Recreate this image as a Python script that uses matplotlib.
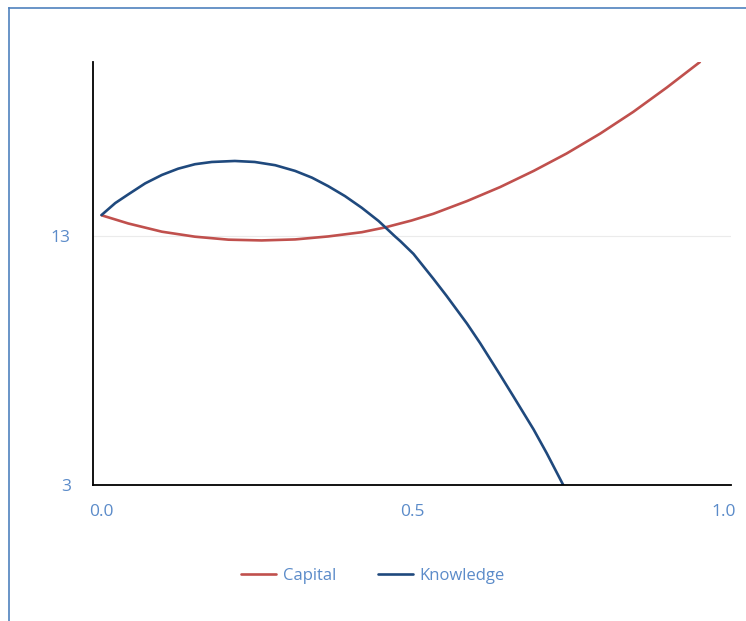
import matplotlib.pyplot as plt
from matplotlib.lines import Line2D

plt.rcParams['font.family'] = ['Open Sans', 'DejaVu Sans']

# Curves read at sample points along the x axis
capital_x = [0.000, 0.043, 0.097, 0.150, 0.204, 0.257, 0.311, 0.364, 0.418, 0.455,
             0.498, 0.533, 0.587, 0.640, 0.694, 0.747, 0.801, 0.854, 0.908, 0.961]
capital_y = [13.85, 13.52, 13.19, 12.99, 12.87, 12.84, 12.88, 13.00, 13.17, 13.36,
             13.64, 13.91, 14.42, 14.98, 15.63, 16.33, 17.13, 18.00, 18.98, 20.00]

knowledge_x = [0.000, 0.022, 0.043, 0.070, 0.097, 0.123, 0.150, 0.177, 0.214, 0.246,
               0.279, 0.311, 0.338, 0.364, 0.391, 0.418, 0.445, 0.471, 0.480, 0.501,
               0.533, 0.554, 0.587, 0.608, 0.640, 0.661, 0.694, 0.715, 0.742]
knowledge_y = [13.86, 14.34, 14.69, 15.13, 15.47, 15.72, 15.90, 15.99, 16.03, 15.99,
               15.86, 15.63, 15.36, 15.02, 14.62, 14.15, 13.62, 13.01, 12.81, 12.30,
               11.30, 10.62, 9.50, 8.72, 7.45, 6.60, 5.25, 4.30, 3.00]

x_ticks = [0.0, 0.5, 1.0]
x_tick_labels = ['0.0', '0.5', '1.0']
y_ticks = [3, 13]
y_tick_labels = ['3', '13']

text_color = '#5B8BC9'
red = '#C0504D'
blue = '#1F497D'

fig = plt.figure(figsize=(7.46, 6.21), dpi=100)
ax = fig.add_axes([0.1247, 0.2182, 0.8553, 0.6818])

ax.axhline(13, color='#EBEBEB', linewidth=0.8, zorder=0)
ax.plot(capital_x, capital_y, color=red, linewidth=1.9, label='Capital',
        solid_capstyle='round', solid_joinstyle='round')
ax.plot(knowledge_x, knowledge_y, color=blue, linewidth=1.9, label='Knowledge',
        solid_capstyle='round', solid_joinstyle='round')

ax.set_xlim(-0.0137, 1.0112)
ax.set_ylim(3, 20)
ax.set_xticks(x_ticks)
ax.set_xticklabels(x_tick_labels)
ax.set_yticks(y_ticks)
ax.set_yticklabels(y_tick_labels)
ax.tick_params(axis='both', length=0, labelsize=12.5, colors=text_color)
ax.tick_params(axis='x', pad=13)
ax.tick_params(axis='y', pad=16)

for side in ['top', 'right']:
    ax.spines[side].set_visible(False)
for side in ['left', 'bottom']:
    ax.spines[side].set_color('black')
    ax.spines[side].set_linewidth(1.3)

leg = fig.legend(loc='center', bbox_to_anchor=(0.5, 0.0725), ncol=2, frameon=False,
                 fontsize=12, handlelength=2.1, handletextpad=0.4, columnspacing=2.5)
for t in leg.get_texts():
    t.set_color(text_color)

# Chart border (runs off the right and bottom edges)
fig.add_artist(Line2D([8.5 / 746, 8.5 / 746], [1 - 8 / 621, -0.1],
                      transform=fig.transFigure, color='#4F81BD', linewidth=1.2))
fig.add_artist(Line2D([8.5 / 746, 1.1], [1 - 8 / 621, 1 - 8 / 621],
                      transform=fig.transFigure, color='#4F81BD', linewidth=1.2))

fig.savefig('out.png', dpi=100)
